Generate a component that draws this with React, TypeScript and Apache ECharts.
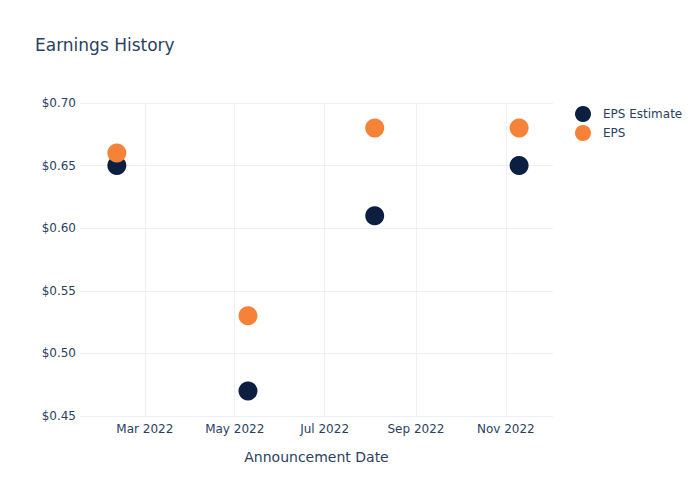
import React, { useEffect, useRef } from "react";
import * as echarts from "echarts";

const dates = ["2022-02-10", "2022-05-10", "2022-08-04", "2022-11-10"];
const epsEstimate = [0.65, 0.47, 0.61, 0.65];
const eps = [0.66, 0.53, 0.68, 0.68];
const monthTicks = ["2022-03-01", "2022-05-01", "2022-07-01", "2022-09-01", "2022-11-01"];
const xRange = ["2022-01-16", "2022-12-03"];
const yTicks = { min: 0.45, max: 0.7, step: 0.05 };

const MONTHS = ["Jan", "Feb", "Mar", "Apr", "May", "Jun", "Jul", "Aug", "Sep", "Oct", "Nov", "Dec"];
const ts = (s: string) => new Date(s + "T00:00:00Z").getTime();
const TEXT = "#2a3f5f";
const GRID = "#ebf0f8";
const FONT = "DejaVu Sans";

export default function App() {
  const ref = useRef<HTMLDivElement>(null);
  useEffect(() => {
    if (!ref.current) return;
    const chart = echarts.init(ref.current, undefined, { renderer: "svg" });
    const ticks = monthTicks.map(ts);
    chart.setOption({
      animation: false,
      backgroundColor: "#fff",
      textStyle: { fontFamily: FONT },
      title: {
        text: "Earnings History",
        left: 30,
        top: 31,
        textStyle: { fontFamily: FONT, fontSize: 17, fontWeight: "normal", color: TEXT },
      },
      legend: {
        orient: "vertical",
        left: 570,
        top: 101,
        itemWidth: 30,
        itemHeight: 16,
        itemGap: 3,
        icon: "circle",
        textStyle: { fontFamily: FONT, fontSize: 12, color: TEXT },
        data: ["EPS Estimate", "EPS"],
      },
      grid: { left: 80, right: 147, top: 103, bottom: 84 },
      xAxis: {
        type: "value",
        min: ts(xRange[0]),
        max: ts(xRange[1]),
        name: "Announcement Date",
        nameLocation: "middle",
        nameGap: 34,
        nameTextStyle: { fontFamily: FONT, fontSize: 14, color: TEXT },
        axisLine: { show: false },
        axisTick: { show: false, customValues: ticks },
        axisLabel: {
          customValues: ticks,
          margin: 7,
          color: TEXT,
          fontSize: 12,
          fontFamily: FONT,
          formatter: (v: number) => {
            const d = new Date(v);
            return MONTHS[d.getUTCMonth()] + " " + d.getUTCFullYear();
          },
        },
        splitLine: { show: true, lineStyle: { color: GRID, width: 1 } },
      },
      yAxis: {
        type: "value",
        min: yTicks.min,
        max: yTicks.max,
        interval: yTicks.step,
        axisLine: { show: false },
        axisTick: { show: false },
        axisLabel: {
          margin: 4,
          color: TEXT,
          fontSize: 12,
          fontFamily: FONT,
          formatter: (v: number) => "$" + v.toFixed(2),
        },
        splitLine: { show: true, lineStyle: { color: GRID, width: 1 } },
      },
      series: [
        {
          name: "EPS Estimate",
          type: "scatter",
          symbolSize: 19,
          itemStyle: { color: "#0c1f40", opacity: 1 },
          data: dates.map((d, i) => [ts(d), epsEstimate[i]]),
        },
        {
          name: "EPS",
          type: "scatter",
          symbolSize: 19,
          itemStyle: { color: "#f68237", opacity: 1 },
          data: dates.map((d, i) => [ts(d), eps[i]]),
        },
      ],
    });
    return () => chart.dispose();
  }, []);
  return (
    <div
      ref={ref}
      style={{ position: "fixed", left: 0, top: 0, width: 700, height: 500 }}
    />
  );
}
